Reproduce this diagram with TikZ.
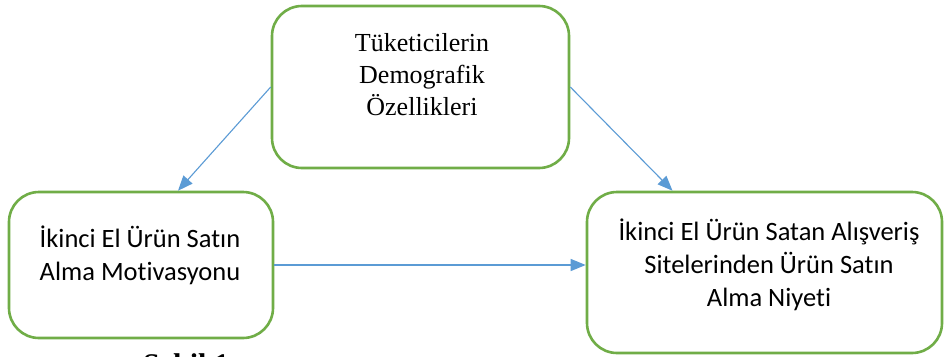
\documentclass[tikz,border=0pt]{standalone}
\usepackage{fontspec}
\setmainfont{Liberation Serif}
\newfontfamily\calfont[Ligatures=NoCommon]{Carlito}
\usetikzlibrary{arrows.meta,calc}
\tikzset{
  box/.style={draw=boxgreen, line width=2.6pt, rounded corners=30pt, inner sep=0pt, fill=white},
  conn/.style={draw=lineblue, line width=1.1pt, -{Triangle[length=15pt,width=12pt]}},
  seriftxt/.style={align=center, font=\fontsize{26}{32}\selectfont, inner sep=0pt},
  sanstxt/.style={align=center, font=\calfont\fontsize{26.5}{33}\selectfont, inner sep=0pt}
}
\definecolor{boxgreen}{HTML}{70AD47}
\definecolor{lineblue}{HTML}{5B9BD5}
\begin{document}
\begin{tikzpicture}[x=1pt,y=-1pt]
\useasboundingbox (0,0) rectangle (944,356);
\clip (0,0) rectangle (944,356);
\fill[white] (0,0) rectangle (944,356);
% boxes
\node[box, minimum width=297pt, minimum height=162pt] (top) at (420.5,87) {};
\node[box, minimum width=264pt, minimum height=146pt] (left) at (141,265) {};
\node[box, minimum width=355pt, minimum height=161pt] (right) at (764.5,272.5) {};
% texts
\node[seriftxt] (toptxt) at (422,75) {Tüketicilerin\\Demografik\\Özellikleri};
\node[sanstxt] (lefttxt) at (140,255) {İkinci El Ürün Satın\\Alma Motivasyonu};
\node[sanstxt] (righttxt) at (769,265) {İkinci El Ürün Satan Alışveriş\\Sitelerinden Ürün Satın\\Alma Niyeti};
% connectors
\draw[conn] (top.west) -- ([xshift=37pt]left.north);
\draw[conn] (top.east) -- ([xshift=-92pt]right.north);
\draw[conn] (left.east) -- (left.east -| right.west);
% caption (cut off at the bottom edge, as in the reference)
\node[anchor=north west, inner sep=0pt, font=\bfseries\fontsize{30}{36}\selectfont] (cap) at (143,353) {Şekil 1.};
\end{tikzpicture}
\end{document}
